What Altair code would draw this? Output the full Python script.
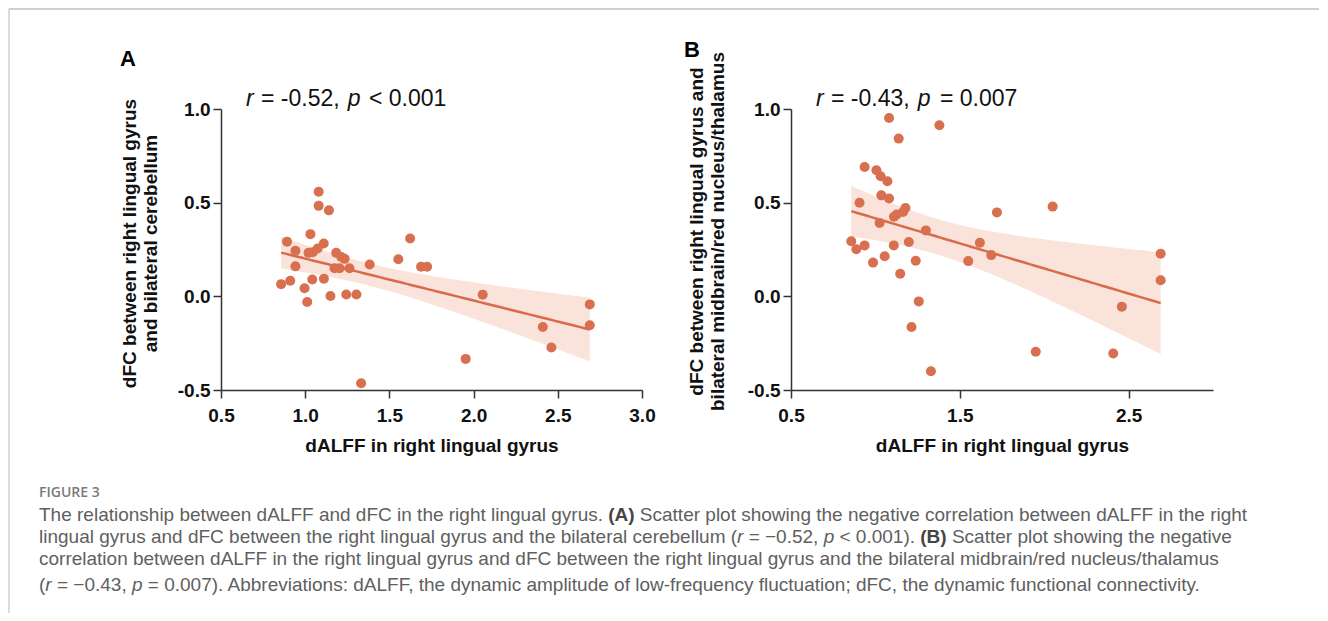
import altair as alt
import numpy as np
import pandas as pd

# ---------------- data ----------------
a_dalff = [0.857, 0.911, 0.892, 0.942, 0.942, 0.996, 1.012, 1.031, 1.020, 1.045,
           1.074, 1.110, 1.042, 1.080, 1.080, 1.141, 1.111, 1.150, 1.184, 1.214,
           1.234, 1.174, 1.204, 1.263, 1.244, 1.304, 1.332, 1.383, 1.553, 1.623,
           1.688, 1.724, 1.953, 2.054, 2.411, 2.462, 2.690, 2.690]
a_dfc = [0.065, 0.083, 0.292, 0.243, 0.160, 0.043, -0.030, 0.332, 0.232, 0.235,
         0.255, 0.282, 0.090, 0.558, 0.483, 0.459, 0.094, 0.002, 0.232, 0.210,
         0.200, 0.150, 0.150, 0.150, 0.010, 0.010, -0.464, 0.170, 0.198, 0.309,
         0.158, 0.158, -0.334, 0.009, -0.164, -0.273, -0.043, -0.154]

b_dalff = [1.081, 1.379, 1.138, 0.936, 1.006, 1.031, 1.071, 1.035, 1.081, 0.906,
           1.178, 1.164, 1.126, 1.110, 1.025, 1.299, 0.857, 0.887, 0.936, 1.109,
           1.198, 0.986, 1.055, 1.239, 1.147, 1.257, 1.214, 1.329, 1.550, 1.619,
           1.686, 1.720, 1.950, 2.050, 2.409, 2.460, 2.690, 2.690]
b_dfc = [0.952, 0.913, 0.842, 0.690, 0.673, 0.641, 0.614, 0.539, 0.522, 0.500,
         0.472, 0.450, 0.437, 0.425, 0.391, 0.352, 0.294, 0.251, 0.272, 0.272,
         0.290, 0.180, 0.214, 0.190, 0.121, -0.027, -0.164, -0.400, 0.188, 0.286,
         0.220, 0.448, -0.296, 0.479, -0.305, -0.055, 0.227, 0.086]

a_xticks = [0.5, 1.0, 1.5, 2.0, 2.5, 3.0]
b_xticks = [0.5, 1.5, 2.5]
yticks = [-0.5, 0.0, 0.5, 1.0]

x_title = "dALFF in right lingual gyrus"
a_ytitle = ["dFC between right lingual gyrus", "and bilateral cerebellum"]
b_ytitle = ["dFC between right lingual gyrus and", "bilateral midbrain/red nucleus/thalamus"]

a_stats = [("r", "italic"), ("= -0.52,", "normal"), ("p", "italic"), ("< 0.001", "normal")]
b_stats = [("r", "italic"), ("= -0.43,", "normal"), ("p", "italic"), ("= 0.007", "normal")]

fig_label = "FIGURE 3"
caption_lines = [
    [("The relationship between dALFF and dFC in the right lingual gyrus. ", "n"),
     ("(A) ", "b"),
     ("Scatter plot showing the negative correlation between dALFF in the right", "n")],
    [("lingual gyrus and dFC between the right lingual gyrus and the bilateral cerebellum (", "n"),
     ("r ", "i"), ("= \u22120.52, ", "n"), ("p ", "i"), ("< 0.001). ", "n"),
     ("(B) ", "b"), ("Scatter plot showing the negative", "n")],
    [("correlation between dALFF in the right lingual gyrus and dFC between the right lingual gyrus and the bilateral midbrain/red nucleus/thalamus", "n")],
    [("(", "n"), ("r ", "i"), ("= \u22120.43, ", "n"), ("p ", "i"),
     ("= 0.007). Abbreviations: dALFF, the dynamic amplitude of low-frequency fluctuation; dFC, the dynamic functional connectivity.", "n")],
]
caption_baselines = [520, 542, 564, 590]

# ---------------- styling / layout ----------------
FONT = "Liberation Sans"
CAPFONT = "Liberation Sans"
PT = "#D8704F"
LN = "#D96B4B"
BAND = "#FAE3DA"
AX = "#333333"
OX, OY = 220, 108  # page position of panel A plot origin
H = 281
WA, WB = 421, 422
CAP_X0 = 38
CAP_SIZE = 19.0

# Liberation Sans (Arial-metric) advance widths per 1000 em, used to chain caption runs
_W = {" ": 278, "a": 556, "b": 556, "c": 500, "d": 556, "e": 556, "f": 278, "g": 556,
      "h": 556, "i": 222, "j": 222, "k": 500, "l": 222, "m": 833, "n": 556, "o": 556,
      "p": 556, "q": 556, "r": 333, "s": 500, "t": 278, "u": 556, "v": 500, "w": 722,
      "x": 500, "y": 500, "z": 500, "A": 667, "B": 667, "C": 722, "D": 722, "F": 611,
      "L": 556, "S": 667, "T": 611, "(": 333, ")": 333, ",": 278, ".": 278, "/": 278,
      ";": 278, ":": 278, "-": 333, "=": 584, "<": 584, "\u2212": 584}
_WB = {" ": 278, "(": 333, ")": 333, "A": 722, "B": 722}


def text_width(s, size, bold=False):
    tbl = _WB if bold else _W
    return sum(tbl.get(ch, _W.get(ch, 556)) for ch in s) / 1000.0 * size


def one():
    return alt.Data(values=[{"k": 1}])


def text_layer(x, y, txt, size, weight="normal", style="normal", color="#111", font=FONT):
    return alt.Chart(one()).mark_text(
        align="left", baseline="alphabetic", font=font, fontSize=size,
        fontWeight=weight, fontStyle=style, color=color
    ).encode(x=alt.value(x), y=alt.value(y), text=alt.value(txt))


def fit_band(xv, yv):
    x = np.asarray(xv, float)
    y = np.asarray(yv, float)
    n = len(x)
    b, a = np.polyfit(x, y, 1)
    res = y - (a + b * x)
    s = np.sqrt(np.sum(res ** 2) / (n - 2))
    sxx = np.sum((x - x.mean()) ** 2)
    t = 2.028
    xs = np.linspace(x.min(), x.max(), 60)
    fit = a + b * xs
    se = s * np.sqrt(1.0 / n + (xs - x.mean()) ** 2 / sxx)
    return pd.DataFrame({"dalff": xs, "dfc": fit, "lo": fit - t * se, "hi": fit + t * se})


def panel(xv, yv, xticks, ytitle, titleX, titleY, width, letter, letter_xy, stats, stat_x, extra=None):
    df = pd.DataFrame({"dalff": xv, "dfc": yv})
    bd = fit_band(xv, yv)
    xs = alt.Scale(domain=[0.5, 3.0], nice=False, zero=False)
    ys = alt.Scale(domain=[-0.5, 1.0], nice=False, zero=False)
    ax_x = alt.Axis(values=xticks, format=".1f", title=x_title, grid=False,
                    labelFont=FONT, labelFontSize=19, labelFontWeight="bold", labelColor="#111",
                    titleFont=FONT, titleFontSize=19, titleFontWeight="bold", titleColor="#111",
                    labelPadding=8, titlePadding=11, tickSize=8, tickWidth=1.5, domainWidth=1.5,
                    tickColor=AX, domainColor=AX, labelFlush=False)
    ax_y = alt.Axis(values=yticks, grid=False,
                    labelExpr="datum.value < 0 ? '-' + format(-datum.value, '.1f') : format(datum.value, '.1f')",
                    title=ytitle, titleX=titleX, titleY=titleY, titleLineHeight=21,
                    labelFont=FONT, labelFontSize=19, labelFontWeight="bold", labelColor="#111",
                    titleFont=FONT, titleFontSize=19, titleFontWeight="bold", titleColor="#111",
                    labelPadding=3, tickSize=8, tickWidth=1.5, domainWidth=1.5,
                    tickColor=AX, domainColor=AX, labelFlush=False)
    X = alt.X("dalff:Q", scale=xs, axis=ax_x)
    band = alt.Chart(bd).mark_area(color=BAND, opacity=1).encode(
        x=X, y=alt.Y("lo:Q", scale=ys, axis=ax_y), y2="hi:Q")
    line = alt.Chart(bd).mark_line(color=LN, strokeWidth=2.5).encode(
        x=X, y=alt.Y("dfc:Q", scale=ys, axis=ax_y))
    pts = alt.Chart(df).mark_circle(size=100, color=PT, opacity=1).encode(
        x=X, y=alt.Y("dfc:Q", scale=ys, axis=ax_y))
    layers = [band, line, pts]
    layers.append(text_layer(letter_xy[0], letter_xy[1], letter, 22, weight="bold", color="#000"))
    for (txt, style), sx in zip(stats, stat_x):
        layers.append(text_layer(sx, -3, txt, 23, style=style, color="#111"))
    if extra:
        layers += extra
    return alt.layer(*layers).properties(width=width, height=H)


# caption, figure label and frame live in panel A's coordinate space
extra = []
extra.append(text_layer(CAP_X0 - OX, 496 - OY, fig_label, 14, weight=600, color="#7a7a7a", font="Open Sans"))
for runs, base in zip(caption_lines, caption_baselines):
    x = CAP_X0
    for txt, st in runs:
        if st == "b":
            extra.append(text_layer(x - OX, base - OY, txt.strip(), CAP_SIZE, weight="bold", color="#454545", font=CAPFONT))
        elif st == "i":
            extra.append(text_layer(x - OX, base - OY, txt.strip(), CAP_SIZE, style="italic", color="#606060", font=CAPFONT))
        else:
            extra.append(text_layer(x - OX, base - OY, txt.strip(), CAP_SIZE, color="#606060", font=CAPFONT))
        x += text_width(txt, CAP_SIZE, bold=(st == "b"))

extra.append(alt.Chart(one()).mark_rule(color="#cfcfcf", strokeWidth=2).encode(
    x=alt.value(8 - OX), x2=alt.value(1318 - OX), y=alt.value(8 - OY)))
extra.append(alt.Chart(one()).mark_rule(color="#cfcfcf", strokeWidth=1.5).encode(
    x=alt.value(8 - OX), y=alt.value(8 - OY), y2=alt.value(612 - OY)))

stat_x = [25, 40, 126.7, 148]
stat_xb = [25, 40, 126.7, 149]

pa = panel(a_dalff, a_dfc, a_xticks, a_ytitle, -82, 134, WA, "A", (-101, -43), a_stats, stat_x, extra)
pb = panel(b_dalff, b_dfc, b_xticks, b_ytitle, -85, 122, WB, "B", (-107, -52), b_stats, stat_xb)

chart = alt.hconcat(pa, pb, spacing=149, bounds="flush").properties(padding=0).configure_view(stroke=None)

chart.save("out.html", embed_options={"renderer": "svg", "actions": False})
